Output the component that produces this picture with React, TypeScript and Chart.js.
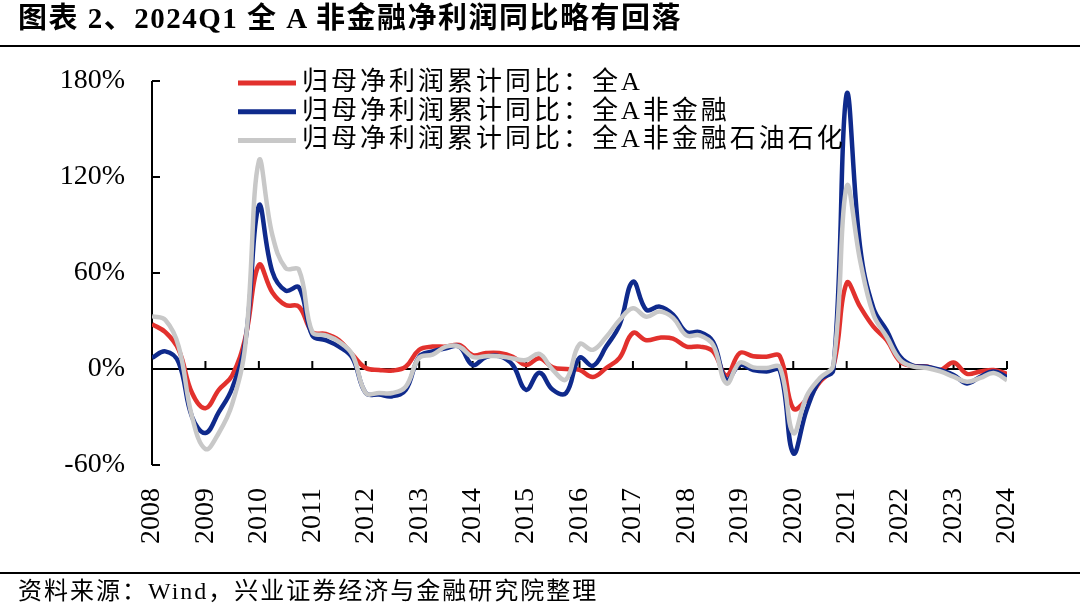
import { useEffect, useRef } from 'react';
import { Chart, registerables } from 'chart.js';

Chart.register(...registerables);

// Year tick labels (each year label sits at that year's Q1)
const yearTicks = [2008, 2009, 2010, 2011, 2012, 2013, 2014, 2015, 2016, 2017, 2018, 2019, 2020, 2021, 2022, 2023, 2024];

// Quarterly cumulative YoY growth of net profit attributable to parent (%), 2008Q1 .. 2024Q1
const allA = [
  28, 23, 12, -15,
  -24.5, -13, -4, 20,
  65, 48, 40, 39,
  23, 22, 18, 9,
  0.6, -0.6, -1, 1.5,
  12, 14, 14, 15,
  8.7, 10, 10, 7.7,
  2.5, 6.7, 1, 0,
  -0.6, -5, 0.6, 7,
  22.5, 18, 19.6, 19,
  14, 14, 11, -4,
  10, 8, 7.7, 8,
  -24.7, -19, -8, 1.5,
  53.7, 39, 26.5, 18,
  4.6, 1.9, 1.5, -0.6,
  4, -3, -1.5, -0.6,
  -3,
];

const allANonFin = [
  7, 11, 4, -30,
  -40, -27, -12, 18,
  102, 61, 49, 51,
  21, 18, 14, 7,
  -15, -16, -17, -13,
  7.7, 11, 13, 14,
  2.5, 7.5, 8, 2.5,
  -13, -2.3, -13, -15,
  7, 2, 14, 27.5,
  54.6, 37, 39, 34,
  23, 23, 17, -7,
  2.5, -0.6, -1.5, -1,
  -52.6, -25.6, -6.7, -0.6,
  172, 76.6, 38, 24,
  7.7, 2, 1.5, -0.6,
  -3.7, -9, -4.8, -1.5,
  -5,
];

const allANonFinExPetro = [
  33, 30.6, 14, -30,
  -50, -40, -22, 16,
  130, 84, 63, 62,
  23, 21, 17, 9,
  -15, -15, -15, -11,
  7, 9, 14, 14,
  7.5, 8, 8, 6.6,
  5.6, 9.4, -0.6, -6.5,
  15.5, 12, 20, 30.6,
  38, 32.7, 36, 32,
  21, 21, 15, -9,
  4, 1, 0.6, 1,
  -40, -17, -5.6, 2.5,
  114, 68, 34, 20,
  5.6, 1.5, 0.6, -1.5,
  -4.8, -8, -5.6, -2.5,
  -7,
];

const seriesNames = [
  '归母净利润累计同比：全A',
  '归母净利润累计同比：全A非金融',
  '归母净利润累计同比：全A非金融石油石化',
];
const seriesColors = ['#E2312D', '#0F2A8C', '#C8C8C8'];

const toPoints = (vals: number[]) => vals.map((v, i) => ({ x: yearTicks[0] + i / 4, y: v }));

const tickFont = { family: "'Liberation Serif', 'Times New Roman', serif", size: 28 };

const axisPlugin = {
  id: 'excelAxes',
  beforeDatasetsDraw(chart: any) {
    const { ctx, chartArea: a, scales } = chart;
    const x = scales.x;
    const y = scales.y;
    ctx.save();
    ctx.strokeStyle = '#000';
    ctx.lineWidth = 2;
    ctx.beginPath();
    ctx.moveTo(a.left, a.top);
    ctx.lineTo(a.left, a.bottom);
    y.ticks.forEach((t: any) => {
      const py = y.getPixelForValue(t.value);
      ctx.moveTo(a.left, py);
      ctx.lineTo(a.left + 8, py);
    });
    const y0 = y.getPixelForValue(0);
    ctx.moveTo(a.left, y0);
    ctx.lineTo(a.right, y0);
    x.ticks.forEach((t: any) => {
      const px = x.getPixelForValue(t.value);
      ctx.moveTo(px, y0);
      ctx.lineTo(px, y0 - 8);
    });
    ctx.stroke();
    ctx.restore();
  },
};

const legendPlugin = {
  id: 'insideLegend',
  afterDraw(chart: any) {
    const { ctx, chartArea: a } = chart;
    ctx.save();
    ctx.font = "26px 'Liberation Serif', 'Noto Sans CJK SC', serif";
    (ctx as any).letterSpacing = '3px';
    ctx.textBaseline = 'middle';
    ctx.textAlign = 'left';
    chart.data.datasets.forEach((ds: any, i: number) => {
      const yy = a.top + 2 + i * 28.7;
      ctx.strokeStyle = ds.borderColor;
      ctx.lineWidth = 5;
      ctx.beginPath();
      ctx.moveTo(a.left + 86, yy);
      ctx.lineTo(a.left + 144, yy);
      ctx.stroke();
      ctx.fillStyle = '#000';
      ctx.fillText(ds.label, a.left + 150, yy);
    });
    ctx.restore();
  },
};

export default function App() {
  const ref = useRef<HTMLCanvasElement>(null);

  useEffect(() => {
    const values = [allA, allANonFin, allANonFinExPetro];
    const chart = new Chart(ref.current as HTMLCanvasElement, {
      type: 'line',
      data: {
        datasets: values.map((vals, i) => ({
          label: seriesNames[i],
          data: toPoints(vals),
          borderColor: seriesColors[i],
          backgroundColor: seriesColors[i],
          borderWidth: 4.5,
          pointRadius: 0,
          tension: 0.4,
          fill: false,
          order: 3 - i,
        })),
      },
      options: {
        animation: false,
        responsive: false,
        devicePixelRatio: 1,
        layout: { padding: { top: 81, right: 73, bottom: 65, left: 0 } },
        plugins: { legend: { display: false }, tooltip: { enabled: false } },
        scales: {
          x: {
            type: 'linear',
            min: yearTicks[0],
            max: yearTicks[yearTicks.length - 1],
            afterFit: (s: any) => { s.height = 80; },
            grid: { display: false },
            border: { display: false },
            ticks: {
              stepSize: 1,
              autoSkip: false,
              minRotation: 90,
              maxRotation: 90,
              padding: 15,
              font: tickFont,
              color: '#000',
              callback: (v: any) => String(v),
            },
          },
          y: {
            min: -60,
            max: 180,
            afterFit: (s: any) => { s.width = 152; },
            grid: { display: false },
            border: { display: false },
            ticks: {
              stepSize: 60,
              padding: 19,
              font: tickFont,
              color: '#000',
              callback: (v: any) => v + '%',
            },
          },
        },
      },
      plugins: [axisPlugin, legendPlugin],
    });
    return () => chart.destroy();
  }, []);

  const textFont = "'Liberation Serif', 'Noto Sans CJK SC', serif";

  return (
    <div style={{ position: 'absolute', left: 0, top: 0, width: 1080, height: 610, background: '#fff', overflow: 'hidden' }}>
      <canvas ref={ref} width={1080} height={610} style={{ position: 'absolute', left: 0, top: 0, display: 'block' }} />
      <div style={{ position: 'absolute', left: 18, top: 1, fontFamily: textFont, fontWeight: 'bold', fontSize: 29, lineHeight: '34px', letterSpacing: '1.5px', color: '#000', whiteSpace: 'nowrap' }}>
        图表 2、2024Q1 全 A 非金融净利润同比略有回落
      </div>
      <div style={{ position: 'absolute', left: 0, top: 45, width: 1080, height: 2, background: '#000' }} />
      <div style={{ position: 'absolute', left: 0, top: 572, width: 1080, height: 2, background: '#000' }} />
      <div style={{ position: 'absolute', left: 18, top: 578, fontFamily: textFont, fontSize: 24, lineHeight: '26px', letterSpacing: '2px', color: '#000', whiteSpace: 'nowrap' }}>
        资料来源：Wind，兴业证券经济与金融研究院整理
      </div>
    </div>
  );
}
